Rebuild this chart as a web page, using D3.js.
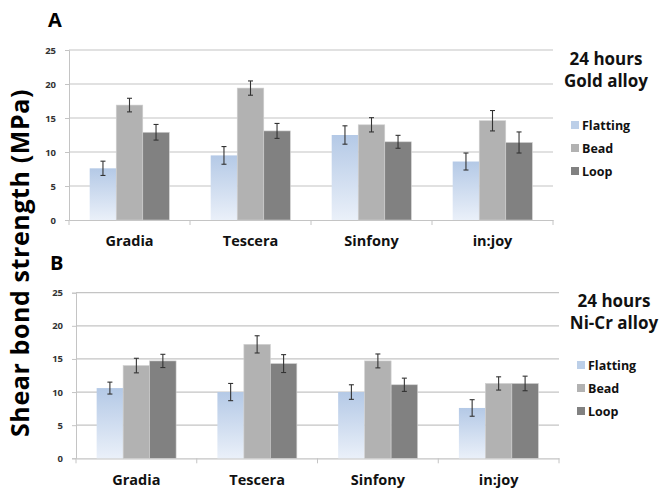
<!DOCTYPE html>
<html>
<head>
<meta charset="utf-8">
<script src="https://cdn.jsdelivr.net/npm/d3@7"></script>
<style>
  body { margin: 0; background: #fff; }
  text { font-family: "Open Sans", "Noto Sans", sans-serif; font-weight: bold; }
</style>
</head>
<body>
<svg id="chart" width="661" height="491"></svg>
<script>
/* data */
const categories = ["Gradia", "Tescera", "Sinfony", "in:joy"];
const seriesNames = ["Flatting", "Bead", "Loop"];
const yTicks = [0, 5, 10, 15, 20, 25];

// panel A: 24 hours, gold alloy
const goldFlatting = [7.6, 9.5, 12.5, 8.6];
const goldBead = [16.9, 19.4, 14.0, 14.6];
const goldLoop = [12.9, 13.1, 11.5, 11.4];
const goldFlattingErr = [1.05, 1.3, 1.35, 1.25];
const goldBeadErr = [1.0, 1.05, 1.05, 1.5];
const goldLoopErr = [1.15, 1.1, 0.95, 1.55];

// panel B: 24 hours, Ni-Cr alloy
const nicrFlatting = [10.6, 10.0, 10.0, 7.6];
const nicrBead = [14.0, 17.2, 14.7, 11.3];
const nicrLoop = [14.7, 14.3, 11.1, 11.3];
const nicrFlattingErr = [0.9, 1.3, 1.1, 1.25];
const nicrBeadErr = [1.1, 1.3, 1.05, 1.0];
const nicrLoopErr = [1.0, 1.35, 1.0, 1.1];

const svg = d3.select("#chart");

/* gradient for the Flatting bars */
const defs = svg.append("defs");
const grad = defs.append("linearGradient")
    .attr("id", "flatGrad")
    .attr("x1", 0).attr("y1", 0).attr("x2", 0).attr("y2", 1);
grad.append("stop").attr("offset", "0%").attr("stop-color", "#b4c9e6");
grad.append("stop").attr("offset", "100%").attr("stop-color", "#eaf0f9");

const fills = ["url(#flatGrad)", "#b2b2b2", "#818181"];
const legendFills = ["#bccfe8", "#b2b2b2", "#818181"];

function drawPanel(opts) {
    const { left, right, top, bottom, values, errors, letter, letterPos, titles, titleX, titleY, legendX, legendY } = opts;

    const x = d3.scaleBand().domain(categories).range([left, right]);
    const xInner = d3.scaleBand().domain(seriesNames)
        .range([0, x.bandwidth()]).paddingOuter(0.78).paddingInner(0);
    const y = d3.scaleLinear().domain([0, 25]).range([bottom, top]);

    const g = svg.append("g");

    /* gridlines */
    g.selectAll(".grid")
        .data(yTicks.filter(d => d > 0))
        .join("line")
        .attr("x1", left).attr("x2", right)
        .attr("y1", d => y(d)).attr("y2", d => y(d))
        .attr("stroke", "#c4c4c4").attr("stroke-width", 1.2);

    /* left axis */
    const yAxis = g.append("g")
        .attr("transform", `translate(${left},0)`)
        .call(d3.axisLeft(y).tickValues(yTicks).tickSize(4).tickPadding(9));
    yAxis.select(".domain").attr("stroke", "#c4c4c4");
    yAxis.selectAll(".tick line").attr("stroke", "#c4c4c4");
    yAxis.selectAll(".tick text").attr("font-size", 9.5).attr("fill", "#333");

    /* bottom axis */
    const xAxis = g.append("g")
        .attr("transform", `translate(0,${bottom})`)
        .call(d3.axisBottom(x).tickSize(0).tickPadding(16));
    xAxis.select(".domain").attr("stroke", "#c4c4c4").attr("stroke-width", 1.2);
    xAxis.selectAll(".tick text").attr("font-size", 14.5).attr("fill", "#111");
    g.selectAll(".cattick")
        .data(categories.concat(["end"]))
        .join("line")
        .attr("x1", (d, i) => left + i * x.step())
        .attr("x2", (d, i) => left + i * x.step())
        .attr("y1", bottom).attr("y2", bottom + 5)
        .attr("stroke", "#c4c4c4");

    /* bars */
    const rows = [];
    categories.forEach((c, i) => {
        seriesNames.forEach((s, j) => {
            rows.push({ cat: c, ser: s, j: j, v: values[j][i], e: errors[j][i] });
        });
    });

    g.selectAll(".bar")
        .data(rows)
        .join("rect")
        .attr("x", d => x(d.cat) + xInner(d.ser))
        .attr("width", xInner.bandwidth())
        .attr("y", d => y(d.v))
        .attr("height", d => bottom - y(d.v))
        .attr("fill", d => fills[d.j])
        .attr("stroke", d => d.j === 0 ? "none" : "#d0d0d0")
        .attr("stroke-width", 0.6);

    /* error bars */
    const eb = g.selectAll(".err").data(rows).join("g")
        .attr("stroke", "#333").attr("stroke-width", 1.1);
    const cx = d => x(d.cat) + xInner(d.ser) + xInner.bandwidth() / 2;
    eb.append("line")
        .attr("x1", cx).attr("x2", cx)
        .attr("y1", d => y(d.v + d.e)).attr("y2", d => y(d.v - d.e));
    eb.append("line")
        .attr("x1", d => cx(d) - 2.5).attr("x2", d => cx(d) + 2.5)
        .attr("y1", d => y(d.v + d.e)).attr("y2", d => y(d.v + d.e));
    eb.append("line")
        .attr("x1", d => cx(d) - 2.5).attr("x2", d => cx(d) + 2.5)
        .attr("y1", d => y(d.v - d.e)).attr("y2", d => y(d.v - d.e));

    /* panel letter */
    g.append("text")
        .attr("x", letterPos[0]).attr("y", letterPos[1])
        .attr("font-size", 20).attr("fill", "#000")
        .text(letter);

    /* panel title */
    g.selectAll(".ptitle").data(titles).join("text")
        .attr("x", titleX).attr("y", (d, i) => titleY + i * 22)
        .attr("text-anchor", "middle")
        .attr("font-size", 17).attr("fill", "#111")
        .text(d => d);

    /* legend */
    const lg = g.selectAll(".leg").data(seriesNames).join("g")
        .attr("transform", (d, i) => `translate(${legendX},${legendY + i * 23})`);
    lg.append("rect").attr("x", 0).attr("y", -4).attr("width", 8).attr("height", 8)
        .attr("fill", (d, i) => legendFills[i]);
    lg.append("text").attr("x", 11).attr("y", 4.5)
        .attr("font-size", 12.5).attr("fill", "#111")
        .text(d => d);
}

drawPanel({
    left: 69, right: 553, top: 50, bottom: 220,
    values: [goldFlatting, goldBead, goldLoop],
    errors: [goldFlattingErr, goldBeadErr, goldLoopErr],
    letter: "A", letterPos: [48, 27],
    titles: ["24 hours", "Gold alloy"], titleX: 606, titleY: 65,
    legendX: 571, legendY: 125
});

drawPanel({
    left: 76, right: 559, top: 292.7, bottom: 458.3,
    values: [nicrFlatting, nicrBead, nicrLoop],
    errors: [nicrFlattingErr, nicrBeadErr, nicrLoopErr],
    letter: "B", letterPos: [50, 270],
    titles: ["24 hours", "Ni-Cr alloy"], titleX: 614, titleY: 307,
    legendX: 577, legendY: 365
});

/* shared y-axis title */
svg.append("text")
    .attr("transform", "translate(29,263) rotate(-90)")
    .attr("text-anchor", "middle")
    .attr("font-size", 25).attr("letter-spacing", 0.6).attr("fill", "#000")
    .text("Shear bond strength (MPa)");
</script>
</body>
</html>
